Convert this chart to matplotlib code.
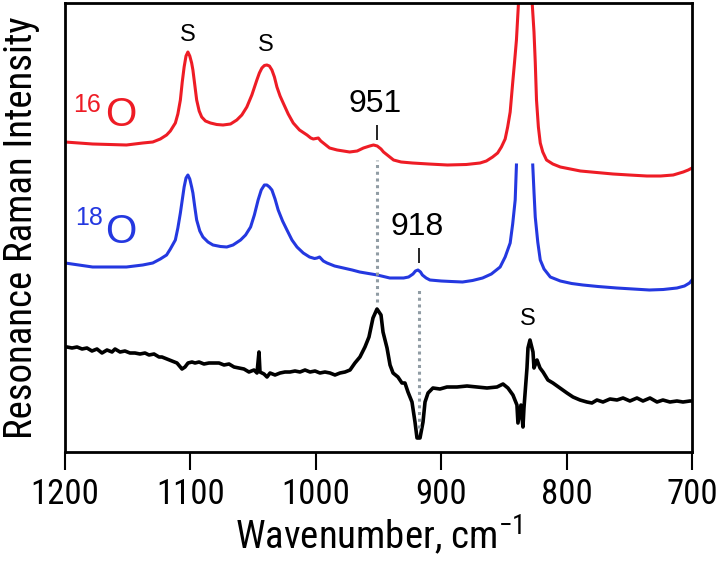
#Resonance Raman spectra, 16O / 18O and difference

import numpy as np
import matplotlib.pyplot as plt

#Data (wavenumber in cm-1, intensity in arbitrary units)

red_wn = [1200, 1178, 1151, 1138, 1130, 1124, 1119, 1116, 1112, 1110,
          1108, 1106.5, 1105, 1103.5, 1102, 1100.5, 1099, 1098, 1096.5, 1095,
          1093, 1091, 1088, 1084, 1079, 1074, 1068, 1063, 1059, 1055,
          1051, 1047, 1045, 1043, 1041, 1039, 1037, 1035, 1033, 1031,
          1028.5, 1026, 1022, 1018, 1013, 1007, 1004, 1002, 1000, 998,
          996, 994, 989, 983, 978, 973, 967, 962, 957, 954,
          951, 948, 946, 942, 938, 932, 923, 910, 895, 880,
          869, 864, 859, 855, 852, 849, 847, 845, 843, 841.5,
          840, 837, 833, 829, 826, 825, 824, 822.5, 821, 819,
          816, 811, 805, 797, 789, 776, 763, 750, 736, 725,
          715, 707, 703, 700]
red_int = [310, 308, 307, 309, 310, 313, 317, 321, 329, 338,
           352, 370, 385, 396, 400, 396, 389, 382, 367, 352,
           341, 335, 331, 329, 327.5, 327, 328, 332, 337, 345,
           357, 372, 379, 384, 386.5, 387, 386, 382, 375, 365,
           356, 349, 338, 329, 322, 317, 314, 313, 313.5, 314,
           311, 309, 304, 302, 301, 300, 301, 304, 306, 307,
           306, 303, 300, 296, 292, 290, 289, 288, 287, 287.5,
           289, 291, 295, 299, 305, 313, 325, 340, 369, 390,
           412, 480, 560, 480, 420, 390, 352, 325, 309, 300,
           292, 288, 285, 283, 281, 279.5, 278, 277, 276, 276,
           277, 280, 282, 284]

blue_wn = [1200, 1178, 1151, 1138, 1130, 1124, 1119, 1116, 1112, 1110,
           1108, 1106.5, 1105, 1103.5, 1102, 1100.5, 1099, 1098, 1096.5, 1095,
           1092.5, 1090, 1086, 1082, 1076, 1071, 1066, 1060, 1056, 1052,
           1049, 1046, 1043.5, 1041, 1039, 1037, 1035, 1032.5, 1030, 1026.5,
           1023, 1019, 1015, 1010, 1005, 1001, 999, 997, 994, 991,
           985, 978, 971, 965, 958, 951, 946, 941, 935, 930,
           926, 922.5, 920.5, 918.5, 916.5, 915, 912, 909, 900, 892,
           883, 875, 867, 860, 853, 849, 845, 843, 841, 840,
           833, 827, 826, 825, 823, 821, 818, 813, 805, 796,
           787, 775, 760, 747, 734, 723, 712, 706, 702, 700]
blue_int = [189, 185, 185, 187, 189, 193, 197, 203, 212, 224,
            239, 252, 265, 274, 277, 273, 265, 259, 245, 232,
            221, 215, 210, 207, 205.5, 205, 207, 212, 217, 225,
            237, 252, 262, 267, 267, 265, 262, 253, 242, 231,
            222, 212, 205, 199, 195, 193.5, 194, 195, 191, 189,
            186, 184, 182, 180, 178.5, 177, 175.5, 174, 174, 174,
            175, 178, 181, 182, 180, 177, 174, 172, 171, 170.5,
            170, 171.5, 174, 178, 185, 195, 209, 228, 252, 287,
            np.nan, 287, 260, 235, 210, 192, 183, 175, 171, 168.5,
            167, 165.5, 164, 163, 162, 162.5, 164, 166, 169, 172]

diff_wn = [1200, 1198.4, 1194.4, 1190.4, 1186.4, 1182.5, 1178.5, 1174.5, 1170.5, 1166.5,
           1162.5, 1160.1, 1156.1, 1152.2, 1148.2, 1144.2, 1140.2, 1136.2, 1133.0, 1129.0,
           1125.0, 1122.7, 1118.7, 1114.7, 1110.7, 1106.7, 1104.3, 1101.9, 1098.7, 1096.3,
           1093.1, 1089.2, 1085.2, 1081.2, 1077.2, 1073.2, 1069.2, 1065.2, 1061.3, 1057.3,
           1053.3, 1049.3, 1046.9, 1045.3, 1044.5, 1041.3, 1038.9, 1036.5, 1032.5, 1028.5,
           1024.6, 1020.6, 1016.6, 1012.6, 1008.6, 1004.6, 1000.6, 996.7, 992.7, 988.7,
           984.7, 980.7, 976.7, 972.7, 968.8, 964.8, 960.8, 957.6, 954.4, 951.2,
           948.0, 946.4, 943.2, 940.8, 938.4, 934.5, 931.3, 928.9, 926.5, 923.3,
           920.9, 919.3, 916.9, 914.5, 912.9, 910.5, 906.6, 901.0, 895.4, 887.4,
           879.4, 871.5, 863.5, 855.5, 850.7, 846.8, 842.8, 839.6, 838.8, 836.4,
           834.8, 834.0, 831.6, 830.8, 829.2, 826.8, 826.0, 823.6, 821.2, 818.8,
           814.9, 810.9, 805.3, 799.7, 794.9, 789.3, 783.8, 779.8, 775.8, 771.0,
           765.4, 759.8, 755.0, 749.5, 743.9, 739.1, 733.5, 727.9, 723.2, 717.6,
           712.0, 707.2, 701.6, 700]
diff_int = [105, 105, 104, 105, 103, 104, 101, 103, 99, 102,
            100, 103, 100, 101, 99, 99, 98, 99, 97, 98,
            95, 95, 93, 91, 89, 83, 85, 89, 90, 89,
            90, 88, 89, 89, 89, 87, 88, 85, 84, 83,
            80, 82, 79, 100, 80, 78, 75, 79, 77, 79,
            80, 80, 81, 80, 82, 80, 81, 79, 80, 79,
            77, 79, 80, 82, 89, 95, 105, 115, 134, 143,
            137, 120, 104, 87, 79, 75, 69, 69, 60, 50,
            30, 14, 14, 30, 50, 59, 64, 63, 65, 65,
            66, 65, 64, 65, 68, 64, 57, 47, 29, 47,
            25, 44, 84, 104, 112, 100, 84, 92, 84, 80,
            72, 69, 64, 59, 55, 52, 50, 49, 52, 50,
            53, 52, 54, 51, 54, 51, 54, 50, 52, 50,
            51, 50, 51, 51]

#Isotope shifted band and guide lines
band_wn = [951, 918]
band_labels = ['951', '918']
guide_top = [292, 165]
guide_bottom = [150, 24]

x_ticks = [1200, 1100, 1000, 900, 800, 700]

red = '#ee1c25'
blue = '#2438e0'
narrow = ['Roboto Condensed', 'Liberation Sans']

#Figure

fig = plt.figure(figsize=(7.2, 5.66), dpi=100)
ax = fig.add_axes([65/720, 114/566, 627/720, 449/566])

ax.plot(red_wn, red_int, color=red, lw=2.2, solid_joinstyle='round')
ax.plot(blue_wn, blue_int, color=blue, lw=2.2, solid_joinstyle='round')
ax.plot(diff_wn, diff_int, color='black', lw=2.6, solid_joinstyle='round')

#dotted guides between the bands
ax.vlines(band_wn, guide_bottom, guide_top, colors='#909ca4', lw=2.2,
          linestyles=[(0, (1, 1.2))])

#small markers and labels above bands
ax.vlines(band_wn, [312, 189], [327, 204], colors='black', lw=1.2)
ax.text(953, 340, band_labels[0], ha='center', va='baseline', fontsize=23,
        family='Liberation Sans')
ax.text(919, 217, band_labels[1], ha='center', va='baseline', fontsize=23,
        family='Liberation Sans')

#solvent bands
for x, y in [(1102, 411), (1040, 401), (831, 127)]:
    ax.text(x, y, 'S', ha='center', va='baseline', fontsize=17,
            family='Liberation Sans')

#isotope labels
ax.text(1193.6, 340, '16', color=red, fontsize=18, ha='left', va='baseline',
        family='Liberation Sans')
ax.text(1168, 326, 'O', color=red, fontsize=29, ha='left', va='baseline',
        family='Liberation Sans')
ax.text(1192, 227, '18', color=blue, fontsize=18, ha='left', va='baseline',
        family='Liberation Sans')
ax.text(1168, 209, 'O', color=blue, fontsize=29, ha='left', va='baseline',
        family='Liberation Sans')

ax.set_xlim(1200, 700)
ax.set_ylim(0, 449)
ax.set_xticks(x_ticks)
ax.set_yticks([])
ax.tick_params(axis='x', direction='out', length=13, width=1.5, pad=6)
for lab in ax.get_xticklabels():
    lab.set_fontfamily(narrow)
    lab.set_fontsize(25)
for s in ax.spines.values():
    s.set_linewidth(2)

ax.set_xlabel('Wavenumber, cm$^{\\mathregular{-1}}$', fontsize=28,
              family=narrow, labelpad=1)
ax.set_ylabel('Resonance Raman Intensity', fontsize=28,
              family=narrow, labelpad=18)

plt.savefig('out.png', dpi=100)
